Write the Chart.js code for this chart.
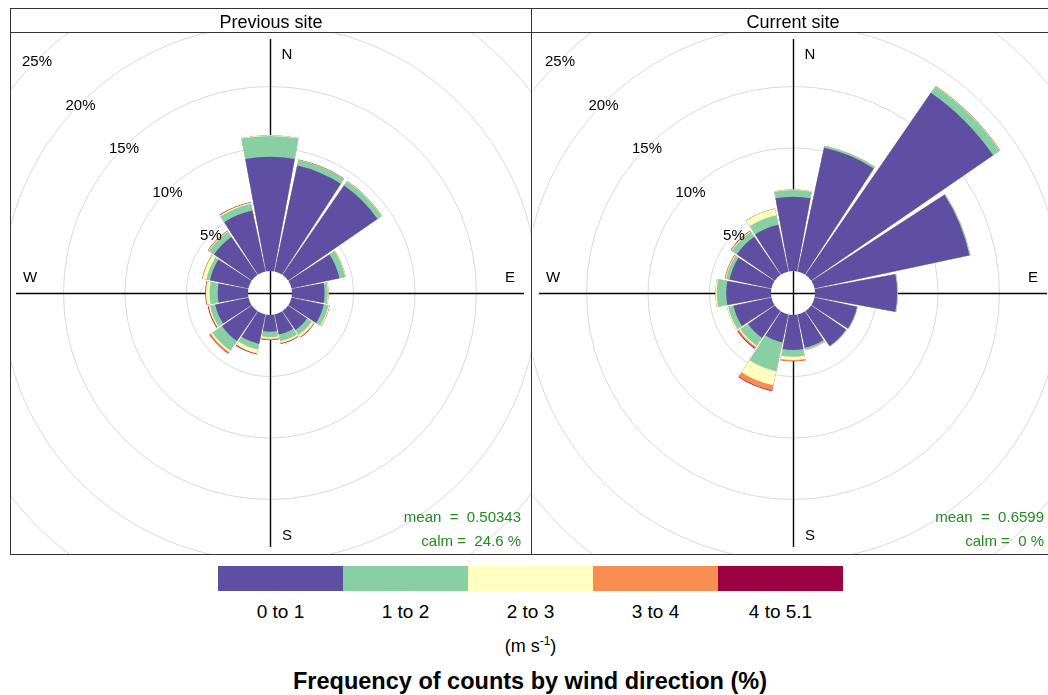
<!DOCTYPE html>
<html>
<head>
<meta charset="utf-8">
<script src="https://cdn.jsdelivr.net/npm/chart.js@4.4.0/dist/chart.umd.min.js"></script>
<style>
  html, body { margin: 0; padding: 0; background: #fff; overflow: hidden; }
  body { width: 1048px; height: 695px; position: relative; font-family: "Liberation Sans", Arial, sans-serif; }
  canvas { position: absolute; }
  .panel { position: absolute; top: 8px; height: 547px; border: 1px solid #333; box-sizing: border-box; }
  .strip { height: 24px; border-bottom: 1px solid #333; box-sizing: border-box; text-align: center; font-size: 18px; line-height: 27px; color: #000; }
  #bar { position: absolute; left: 218px; top: 566px; width: 625px; height: 25px; display: flex; }
  #bar div { flex: 1; }
  #binLabels { position: absolute; left: 218px; top: 601px; width: 625px; display: flex; font-size: 19px; }
  #binLabels div { flex: 1; text-align: center; }
  #units { position: absolute; left: 218px; width: 625px; top: 634px; text-align: center; font-size: 18px; }
  #units sup { font-size: 12px; }
  #footer { position: absolute; left: 0; width: 1060px; top: 668px; text-align: center; font-size: 23.5px; font-weight: bold; }
</style>
</head>
<body>
<canvas id="prevChart" width="521" height="521" style="left:10px;top:33px"></canvas>
<canvas id="currChart" width="521" height="521" style="left:533px;top:33px"></canvas>
<div class="panel" style="left:10px;width:522px"><div class="strip">Previous site</div></div>
<div class="panel" style="left:531px;width:524px"><div class="strip">Current site</div></div>
<div id="bar"></div>
<div id="binLabels"></div>
<div id="units">(m s<sup>-1</sup>)</div>
<div id="footer">Frequency of counts by wind direction (%)</div>
<script>
// направления и интервалы скорости
const directions = ['N', 'NNE', 'NE', 'ENE', 'E', 'ESE', 'SE', 'SSE', 'S', 'SSW', 'SW', 'WSW', 'W', 'WNW', 'NW', 'NNW']
const speedBins = ['0 to 1', '1 to 2', '2 to 3', '3 to 4', '4 to 5.1']
const binColours = ['#5E4FA2', '#88CFA4', '#FFFFBF', '#F88D52', '#9E0142']
const gridPercents = [5, 10, 15, 20, 25]
const compass = ['N', 'E', 'S', 'W']

// Previous site, % по направлениям
const prevSpeed0to1 = [9.29, 8.80, 8.82, 3.98, 2.64, 2.68, 1.86, 1.67, 1.36, 2.44, 2.95, 2.76, 2.46, 3.20, 3.74, 5.07]
const prevSpeed1to2 = [1.69, 0.47, 0.41, 0.49, 0.27, 0.39, 0.47, 0.55, 0.45, 0.48, 0.95, 0.44, 0.67, 0.30, 0.50, 0.56]
const prevSpeed2to3 = [0.05, 0.00, 0.03, 0.04, 0.06, 0.08, 0.19, 0.15, 0.12, 0.30, 0.15, 0.10, 0.27, 0.31, 0.05, 0.08]
const prevSpeed3to4 = [0.00, 0.02, 0.02, 0.00, 0.00, 0.02, 0.05, 0.04, 0.10, 0.04, 0.12, 0.04, 0.04, 0.04, 0.04, 0.04]
const prevSpeed4to5 = [0.00, 0.02, 0.00, 0.00, 0.00, 0.00, 0.03, 0.04, 0.02, 0.05, 0.03, 0.05, 0.03, 0.00, 0.02, 0.03]
const prevStats = ['mean  =  0.50343', 'calm =  24.6 %']

// Current site, % по направлениям
const currSpeed0to1 = [6.04, 10.28, 17.97, 12.88, 6.67, 3.53, 3.45, 2.76, 2.85, 2.32, 2.65, 3.16, 3.64, 3.49, 3.76, 3.88]
const currSpeed1to2 = [0.55, 0.17, 0.65, 0.08, 0.06, 0.05, 0.05, 0.17, 0.54, 2.41, 0.76, 0.43, 0.77, 0.29, 0.49, 0.79]
const currSpeed2to3 = [0.03, 0.00, 0.03, 0.00, 0.00, 0.00, 0.00, 0.03, 0.27, 1.16, 0.12, 0.10, 0.10, 0.05, 0.05, 0.54]
const currSpeed3to4 = [0.00, 0.00, 0.03, 0.00, 0.00, 0.00, 0.00, 0.00, 0.10, 0.43, 0.12, 0.00, 0.00, 0.06, 0.06, 0.02]
const currSpeed4to5 = [0.00, 0.00, 0.00, 0.00, 0.00, 0.00, 0.00, 0.00, 0.00, 0.05, 0.06, 0.00, 0.00, 0.00, 0.02, 0.00]
const currStats = ['mean  =  0.6599', 'calm =  0 %']

const barDeg = 20.9
const gapDeg = 22.5 - barDeg

Chart.defaults.font.family = '"Liberation Sans", Arial, sans-serif'

// накопленные значения: каждый слой рисуется от центра, меньшие поверх
function roseDatasets(bins) {
    let running = directions.map(() => 0)
    return bins.map((vals, b) => {
        running = running.map((v, i) => v + vals[i])
        let data = []
        running.forEach(v => { data.push(v); data.push(0) })
        return {
            label: speedBins[b],
            data: data,
            borderWidth: 0,
            backgroundColor: c => c.dataIndex % 2 ? 'rgba(0,0,0,0)' : binColours[b],
            angle: c => c.dataIndex % 2 ? gapDeg : barDeg
        }
    })
}

function drawCross(ctx, x, y, len) {
    ctx.save()
    ctx.strokeStyle = '#000'
    ctx.lineWidth = 1.4
    ctx.beginPath()
    ctx.moveTo(x - len, y + 0.5); ctx.lineTo(x + len, y + 0.5)
    ctx.moveTo(x + 0.5, y - len); ctx.lineTo(x + 0.5, y + len)
    ctx.stroke()
    ctx.restore()
}

// оси, подписи сторон света, процентов и статистика
const roseDecor = {
    id: 'roseDecor',
    beforeDatasetsDraw(chart) {
        const s = chart.scales.r
        drawCross(chart.ctx, s.xCenter, s.yCenter, 254)
    },
    afterDatasetsDraw(chart, args, opts) {
        const s = chart.scales.r
        const ctx = chart.ctx
        const cx = s.xCenter, cy = s.yCenter
        const hole = s.getDistanceFromCenterForValue(0)

        ctx.save()
        ctx.fillStyle = '#fff'
        ctx.beginPath()
        ctx.arc(cx, cy, hole, 0, Math.PI * 2)
        ctx.fill()
        drawCross(ctx, cx, cy, hole)

        ctx.font = '15px "Liberation Sans", Arial, sans-serif'
        ctx.textAlign = 'center'
        ctx.textBaseline = 'middle'
        ctx.fillStyle = '#000'
        const pos = [[17, -238], [240, -15], [17, 243], [-240, -15]]
        compass.forEach((t, i) => ctx.fillText(t, cx + pos[i][0], cy + pos[i][1]))

        gridPercents.forEach(p => {
            const d = s.getDistanceFromCenterForValue(p) * Math.SQRT1_2
            ctx.fillText(p + '%', cx - d, cy - d + 2)
        })

        ctx.fillStyle = '#228B22'
        ctx.textAlign = 'right'
        ctx.fillText(opts.stats[0], cx + 251, cy + 225)
        ctx.fillText(opts.stats[1], cx + 251, cy + 249)
        ctx.restore()
    }
}

function makeRose(id, bins, stats) {
    const labels = []
    directions.forEach(d => { labels.push(d); labels.push('') })
    return new Chart(document.getElementById(id), {
        type: 'polarArea',
        data: { labels: labels, datasets: roseDatasets(bins) },
        options: {
            responsive: false,
            animation: false,
            events: [],
            layout: { padding: 0 },
            plugins: {
                legend: { display: false },
                tooltip: { enabled: false },
                roseDecor: { stats: stats }
            },
            scales: {
                r: {
                    min: -1.79,
                    max: 19.35,
                    startAngle: -barDeg / 2,
                    ticks: { display: false },
                    afterBuildTicks: sc => { sc.ticks = gridPercents.map(v => ({ value: v })) },
                    grid: { circular: true, color: '#d9d9d9', lineWidth: 1 },
                    angleLines: { display: false },
                    pointLabels: { display: false }
                }
            }
        },
        plugins: [roseDecor]
    })
}

makeRose('prevChart', [prevSpeed0to1, prevSpeed1to2, prevSpeed2to3, prevSpeed3to4, prevSpeed4to5], prevStats)
makeRose('currChart', [currSpeed0to1, currSpeed1to2, currSpeed2to3, currSpeed3to4, currSpeed4to5], currStats)

// шкала цветов под графиками
const bar = document.getElementById('bar')
const binLabels = document.getElementById('binLabels')
speedBins.forEach((t, i) => {
    const box = document.createElement('div')
    box.style.background = binColours[i]
    bar.appendChild(box)
    const lab = document.createElement('div')
    lab.textContent = t
    binLabels.appendChild(lab)
})
</script>
</body>
</html>
